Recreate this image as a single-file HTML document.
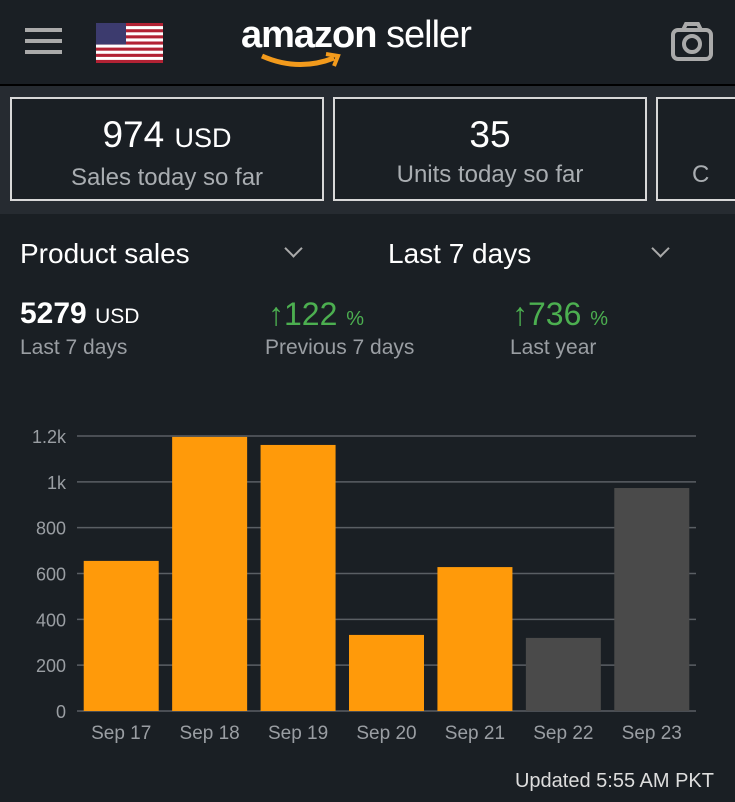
<!DOCTYPE html>
<html><head><meta charset="utf-8">
<style>
body{margin:0;width:735px;height:802px;background:#1a1f24;font-family:"Liberation Sans",sans-serif;overflow:hidden;position:relative;color:#fff}
.abs{position:absolute}
.card{position:absolute;top:97px;height:104px;border:2px solid #d8d8d8;background:#1a1f24;box-sizing:border-box;text-align:center}
.card .big{font-size:37px;margin-top:16px;line-height:40px}
.card .big small{font-size:27px}
.card .lbl{font-size:24px;color:#a9adb1;margin-top:6px}
.chev{position:absolute;width:11px;height:11px;border-right:2.5px solid #aaa;border-bottom:2.5px solid #aaa;transform:rotate(45deg)}
.green{color:#4caf50}
</style></head><body>
<div class="abs" style="left:0;top:0;width:735px;height:84px;background:#1a1f24;border-bottom:2px solid #000"></div>
<div class="abs" style="left:25px;top:28px;width:37px;height:26px">
 <div style="height:4px;background:#aaa;margin-bottom:7px"></div><div style="height:4px;background:#aaa;margin-bottom:7px"></div><div style="height:4px;background:#aaa"></div></div>
<svg class="abs" style="left:96px;top:23px" width="67" height="40" viewBox="0 0 67 40">
 <rect width="67" height="40" fill="#fff"/>
 <g fill="#b22234"><rect y="0" width="67" height="3.1"/><rect y="6.2" width="67" height="3.1"/><rect y="12.3" width="67" height="3.1"/><rect y="18.5" width="67" height="3.1"/><rect y="24.6" width="67" height="3.1"/><rect y="30.8" width="67" height="3.1"/><rect y="36.9" width="67" height="3.1"/></g>
 <rect width="30" height="21.5" fill="#3c3b6e"/></svg>
<div class="abs" style="left:241px;top:14px;font-size:38px;letter-spacing:-1px"><b>amazon</b> seller</div>
<svg class="abs" style="left:258px;top:50px" width="90" height="22"><path d="M4 6 Q40 22 76 8" stroke="#f29a1c" stroke-width="5" fill="none"/><path d="M68 4 L80 6 L76 16" stroke="#f29a1c" stroke-width="4" fill="none"/></svg>
<svg class="abs" style="left:670px;top:22px" width="44" height="40"><rect x="3" y="8" width="38" height="29" rx="5" fill="none" stroke="#aaa" stroke-width="4"/><path d="M13 8 L16 2 H28 L31 8" fill="none" stroke="#aaa" stroke-width="4"/><circle cx="22" cy="22" r="8" fill="none" stroke="#aaa" stroke-width="4"/></svg>
<div class="abs" style="left:0;top:86px;width:735px;height:128px;background:#262b31"></div>
<div class="card" style="left:10px;width:314px"><div class="big">974 <small>USD</small></div><div class="lbl">Sales today so far</div></div>
<div class="card" style="left:333px;width:314px"><div class="big">35</div><div class="lbl">Units today so far</div></div>
<div class="card" style="left:656px;width:100px;text-align:left"><div class="big">&nbsp;</div><div class="lbl" style="padding-left:34px">C</div></div>
<div class="abs" style="left:20px;top:238px;font-size:28px">Product sales</div>
<div class="chev" style="left:287px;top:242px"></div>
<div class="abs" style="left:388px;top:238px;font-size:28px">Last 7 days</div>
<div class="chev" style="left:654px;top:242px"></div>
<div class="abs" style="left:20px;top:297px;font-size:30px;font-weight:bold">5279 <span style="font-size:21px;font-weight:normal">USD</span></div>
<div class="abs" style="left:20px;top:336px;font-size:21px;color:#9a9ea3">Last 7 days</div>
<div class="abs green" style="left:268px;top:296px;font-size:32px">↑122 <span style="font-size:20px">%</span></div>
<div class="abs" style="left:265px;top:336px;font-size:21px;color:#9a9ea3">Previous 7 days</div>
<div class="abs green" style="left:512px;top:296px;font-size:32px">↑736 <span style="font-size:20px">%</span></div>
<div class="abs" style="left:510px;top:336px;font-size:21px;color:#9a9ea3">Last year</div>
<svg class="abs" id="chart" style="left:0;top:0" width="735" height="802"></svg>
<div class="abs" style="right:21px;top:770px;font-size:20px;color:#ddd">Updated 5:55 AM PKT</div>
<script>
const categories=["Sep 17","Sep 18","Sep 19","Sep 20","Sep 21","Sep 22","Sep 23"];
const values=[655,1196,1161,332,628,319,973];
const isPartial=[false,false,false,false,false,true,true];
const yTicks=[0,200,400,600,800,1000,1200];
const yTickLabels=["0","200","400","600","800","1k","1.2k"];
const svg=document.getElementById('chart');
const NS='http://www.w3.org/2000/svg';
const x0=77,x1=696,y0=711,y1=436,ymax=1200;
const slot=(x1-x0)/categories.length;
function yS(v){return y0-(v/ymax)*(y0-y1);}
function xS(i){return x0+i*slot;}
function el(t,a){const e=document.createElementNS(NS,t);for(const k in a)e.setAttribute(k,a[k]);svg.appendChild(e);return e;}
yTicks.forEach((v,i)=>{
 const g=el('line',{x1:x0,x2:x1,y1:yS(v),y2:yS(v),stroke:'#5a5f64','stroke-width':1.5});
 
 
 const t=el('text',{x:66,y:yS(v)+7,'text-anchor':'end','font-size':18,fill:'#9a9ea3','font-family':'Liberation Sans'});
 t.textContent=yTickLabels[i];
 
 
});
categories.forEach((c,i)=>{
 const bw=75, bx=xS(i)+(slot-bw)/2;
 const r=el('rect',{x:bx,y:yS(values[i]),width:bw,height:y0-yS(values[i]),fill:isPartial[i]?'#4a4a4a':'#ff9a0a'});
 
 
 const t=el('text',{x:xS(i)+slot/2,y:739,'text-anchor':'middle','font-size':19,fill:'#9a9ea3','font-family':'Liberation Sans'});
 t.textContent=c;
 
 
});
</script>
</body></html>
